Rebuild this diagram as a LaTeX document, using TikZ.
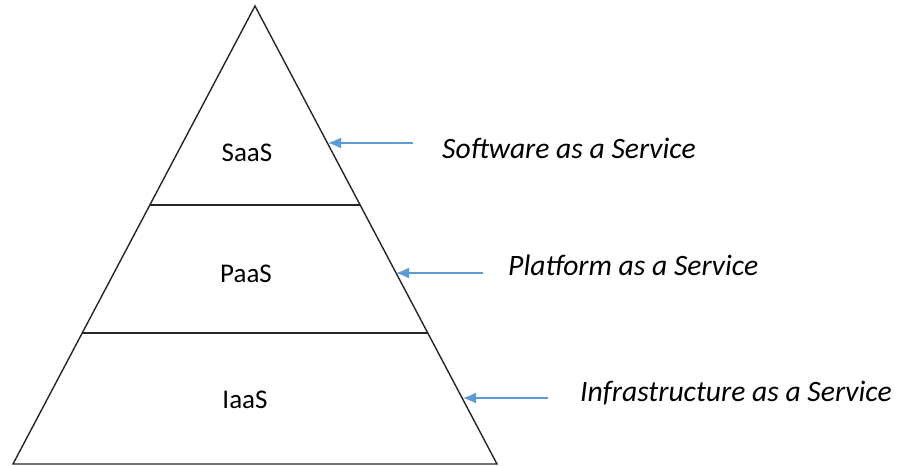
\documentclass[tikz,border=0pt]{standalone}
\usepackage{fontspec}
\setmainfont{Carlito}
\usetikzlibrary{arrows.meta}
\definecolor{arrowblue}{RGB}{91,155,213}
\tikzset{
  edge/.style={draw=black!85, line width=1.4pt},
  pointer/.style={draw=arrowblue, line width=1.3pt, -{Latex[length=13pt,width=11pt]}},
  layer/.style={font=\fontsize{27}{30}\selectfont, inner sep=0pt},
  desc/.style={font=\fontsize{29.6}{32}\selectfont\itshape, anchor=base west, inner sep=0pt}
}
\begin{document}
\begin{tikzpicture}[x=1pt,y=-1pt]
\useasboundingbox (0,0) rectangle (903,466);
\coordinate (top) at (255,6);
\coordinate (bl) at (13,464);
\coordinate (br) at (497,464);
\coordinate (m1l) at (150,205);
\coordinate (m1r) at (360,205);
\coordinate (m2l) at (82,333);
\coordinate (m2r) at (428,333);
\draw[edge, line join=miter] (bl) -- (top) -- (br) -- cycle;
\draw[edge] (m1l) -- (m1r);
\draw[edge] (m2l) -- (m2r);
\node[layer] (saas) at (247,153) {SaaS};
\node[layer] (paas) at (246,274) {PaaS};
\node[layer] (iaas) at (245,400) {IaaS};
\coordinate (t1) at (328,143);
\coordinate (s1) at (413,143);
\coordinate (t2) at (396,273);
\coordinate (s2) at (483,273);
\coordinate (t3) at (463,398);
\coordinate (s3) at (548,398);
\draw[pointer] (s1) -- (t1);
\draw[pointer] (s2) -- (t2);
\draw[pointer] (s3) -- (t3);
\node[desc] (d1) at (442,158) {Software as a Service};
\node[desc] (d2) at (508,275) {Platform as a Service};
\node[desc] (d3) at (580,401) {Infrastructure as a Service};
\end{tikzpicture}
\end{document}
